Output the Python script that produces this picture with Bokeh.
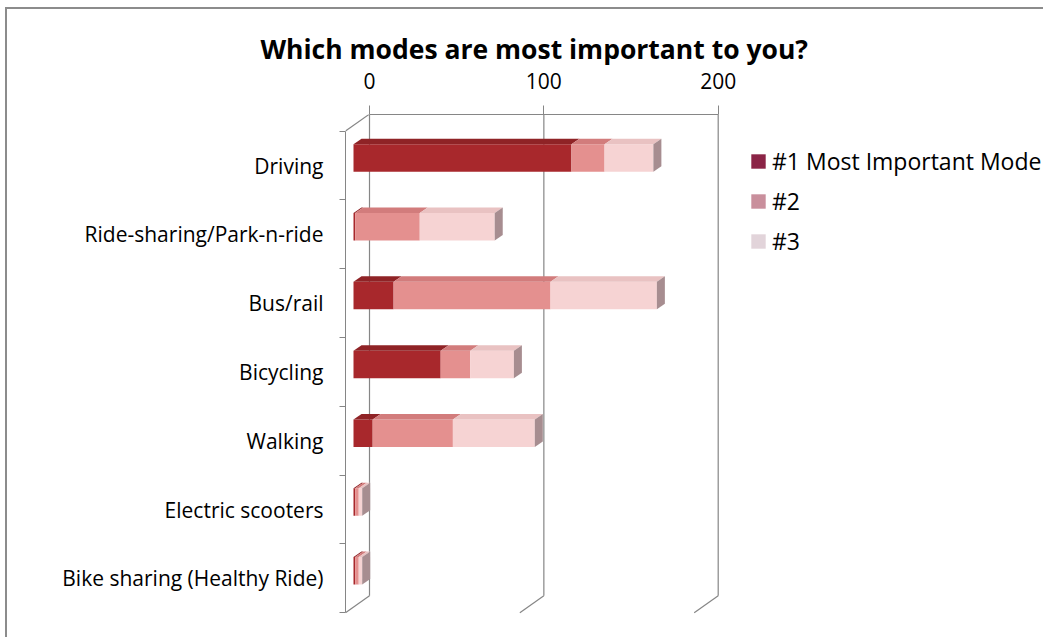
from bokeh.plotting import figure
from bokeh.models import Range1d, FixedTicker, Legend, LegendItem
from bokeh.embed import file_html
from bokeh.resources import INLINE
import numpy as np

# ---------------- data ----------------
categories = ["Driving", "Ride-sharing/Park-n-ride", "Bus/rail", "Bicycling",
              "Walking", "Electric scooters", "Bike sharing (Healthy Ride)"]
rank1 = [125, 1, 23, 50, 11, 1, 1]
rank2 = [19, 37, 90, 17, 46, 2, 2]
rank3 = [28, 43, 61, 25, 47, 2, 2]
series_names = ["#1 Most Important Mode", "#2", "#3"]
x_ticks = [0, 100, 200]

# ---------------- geometry / style ----------------
W, H = 1038, 630
PX_X = 1.7435          # pixels per value unit
PX_CAT = 68.8          # pixels per category
FL, FT, FB = 338, 105, 605
X0_PX = 362
CAT0_PX = 156
WALL_DX, WALL_DY = 24, 17
BAR_DX, BAR_DY = 8, 5.5
BAR_SHIFT_X, BAR_SHIFT_Y = -16, -7.5
BAR_H = 27.5
FONT = "Open Sans"

front_cols = ["#a8282c", "#e4908f", "#f6d3d3"]
top_cols = ["#8f2326", "#d27c7c", "#e9c2c2"]
side_col = "#a78d90"
legend_cols = ["#8b2446", "#c98f9c", "#e2d4da"]
axis_col = "#868686"

x_start = (FL - X0_PX) / PX_X
x_end = (W - X0_PX) / PX_X
y_top = (FT - CAT0_PX) / PX_CAT
y_bot = (FB - CAT0_PX) / PX_CAT

ux = 1.0 / PX_X
uy = 1.0 / PX_CAT
n = len(categories)

p = figure(width=W, height=H, x_range=Range1d(x_start, x_end),
           y_range=Range1d(y_bot, y_top), output_backend="svg",
           toolbar_location=None, x_axis_location="above",
           min_border_left=FL, min_border_right=0, min_border_top=FT,
           min_border_bottom=H - FB)
p.grid.visible = False
p.outline_line_color = None
p.background_fill_color = "white"
p.border_fill_color = "white"
p.styles = {"border-left": "2px solid #8c8c8c", "border-top": "2px solid #8c8c8c",
            "margin-left": "5px", "margin-top": "7px"}

# title
p.title.text = "Which modes are most important to you?"
p.title.align = "left"
p.title.offset = -85
p.title.standoff = 5
p.title.text_font = FONT
p.title.text_font_style = "bold"
p.title.text_font_size = "26.5px"
p.title.text_color = "black"

# top value axis
xa = p.xaxis[0]
xa.ticker = FixedTicker(ticks=x_ticks)
xa.bounds = (min(x_ticks), max(x_ticks))
xa.axis_line_color = axis_col
xa.major_tick_line_color = axis_col
xa.major_tick_out = 9
xa.major_tick_in = 0
xa.minor_tick_line_color = None
xa.major_label_text_font = FONT
xa.major_label_text_font_size = "21px"
xa.major_label_text_color = "black"
xa.major_label_standoff = 17

# left category axis (front edge of side wall)
ya = p.yaxis[0]
ya.ticker = FixedTicker(ticks=list(range(n)),
                        minor_ticks=[i - 0.5 for i in range(n + 1)])
ya.major_label_overrides = {i: c for i, c in enumerate(categories)}
ya.bounds = (-0.5, n - 0.5)
ya.axis_line_color = axis_col
ya.major_tick_line_color = None
ya.major_tick_out = 0
ya.major_tick_in = 0
ya.minor_tick_line_color = axis_col
ya.minor_tick_out = 6
ya.minor_tick_in = 0
ya.major_label_text_font = FONT
ya.major_label_text_font_size = "21px"
ya.major_label_text_color = "black"
ya.major_label_standoff = 16

# 3D walls: gridlines on back wall + floor diagonals + side wall diagonal
wdx = WALL_DX * ux
wdy = WALL_DY * uy
back_bottom = (n - 0.5) - wdy
x0s, y0s, x1s, y1s = [], [], [], []
for t in x_ticks:
    x0s += [t, t]
    y0s += [y_top, back_bottom]
    x1s += [t, t - wdx]
    y1s += [back_bottom, n - 0.5]
x0s.append(min(x_ticks) - wdx); y0s.append(-0.5)
x1s.append(min(x_ticks)); y1s.append(-0.5 - wdy)
p.segment(x0=x0s, y0=y0s, x1=x1s, y1=y1s, line_color=axis_col, line_width=1.2)

# bars
series = [np.array(rank1, float), np.array(rank2, float), np.array(rank3, float)]
cum = np.zeros(n)
bx = BAR_SHIFT_X * ux
by = BAR_SHIFT_Y * uy
bh = BAR_H * uy
bdx = BAR_DX * ux
bdy = BAR_DY * uy
ys = np.arange(n) + by
for k, vals in enumerate(series):
    left = cum + bx
    right = cum + vals + bx
    p.hbar(y=ys, left=left, right=right, height=bh,
           fill_color=front_cols[k], line_color=None)
    txs, tys = [], []
    for i in range(n):
        if vals[i] <= 0:
            continue
        yt = ys[i] - bh / 2
        txs.append([left[i], right[i], right[i] + bdx, left[i] + bdx])
        tys.append([yt, yt, yt - bdy, yt - bdy])
    p.patches(xs=txs, ys=tys, fill_color=top_cols[k], line_color=None)
    cum = cum + vals

# right end caps
sxs, sys_ = [], []
for i in range(n):
    r = cum[i] + bx
    yt = ys[i] - bh / 2
    yb = ys[i] + bh / 2
    sxs.append([r, r + bdx, r + bdx, r])
    sys_.append([yt, yt - bdy, yb - bdy, yb])
p.patches(xs=sxs, ys=sys_, fill_color=side_col, line_color=None)

# legend (swatch renderers of zero width, used only for the key)
items = []
for name, col in zip(series_names, legend_cols):
    r = p.hbar(y=[0], left=[0], right=[0], height=0.1, fill_color=col, line_color=None)
    items.append(LegendItem(label=name, renderers=[r]))
legend = Legend(items=items, location=(404, 357), padding=0, margin=0,
                spacing=8, glyph_width=18, glyph_height=18, label_height=24,
                label_standoff=5, border_line_color=None,
                background_fill_alpha=0, label_text_font=FONT,
                label_text_font_size="23px", label_text_color="black")
p.add_layout(legend)

open("out.html", "w").write(file_html(p, INLINE))
